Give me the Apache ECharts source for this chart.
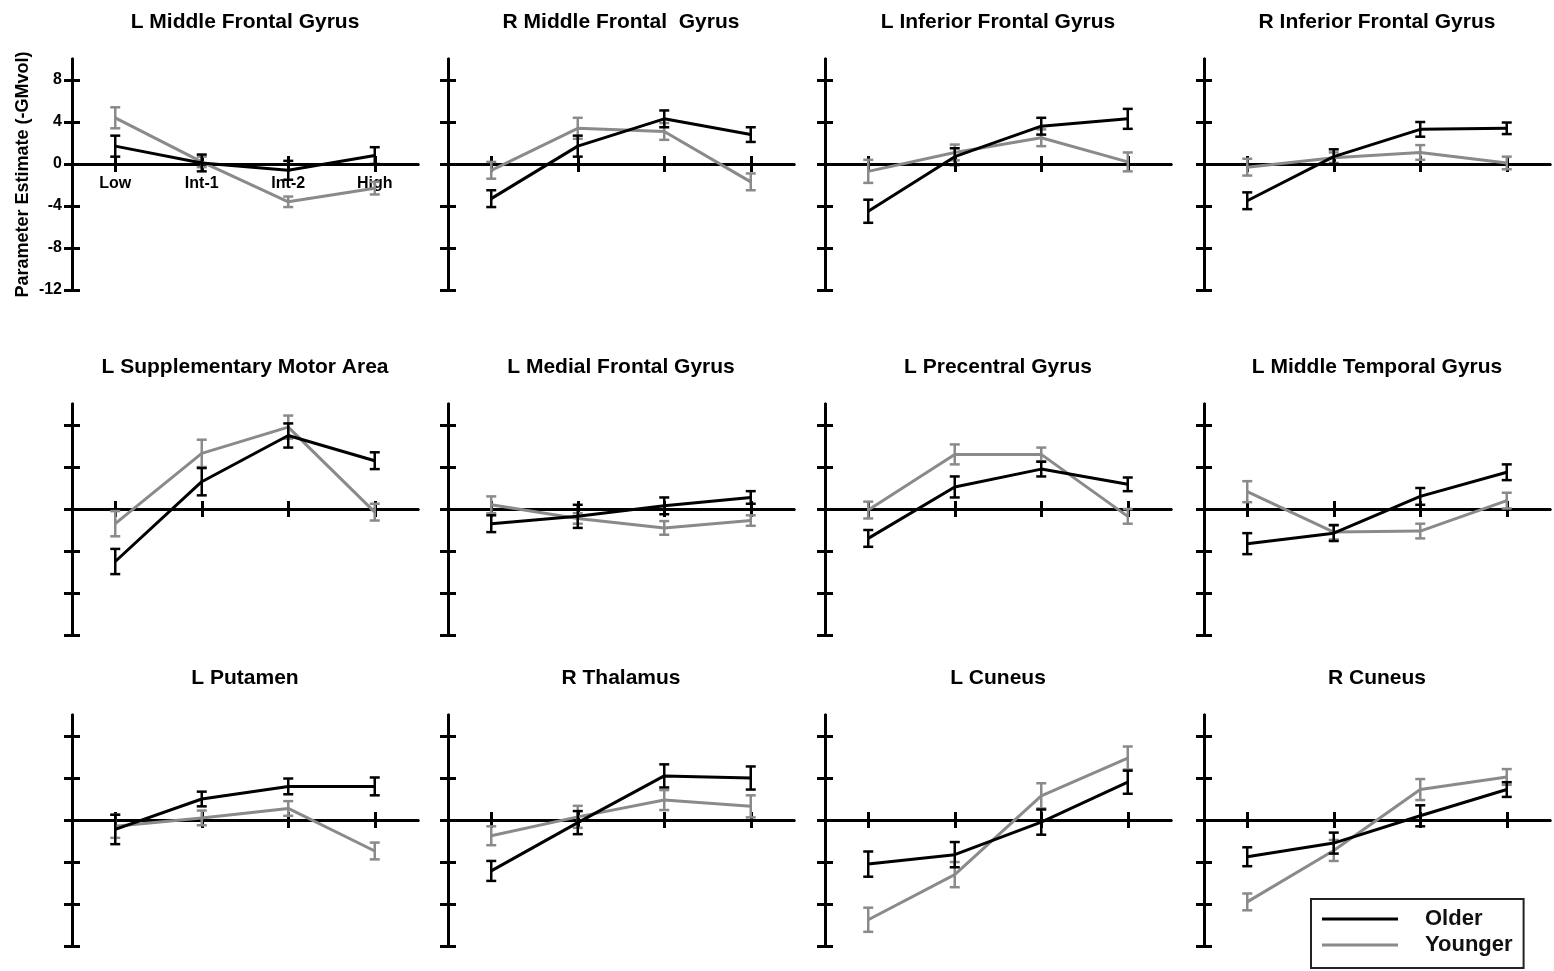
<!DOCTYPE html>
<html>
<head>
<meta charset="utf-8">
<style>
  html, body { margin: 0; padding: 0; background: #fff; }
  #chart { width: 1554px; height: 971px; }
</style>
<script src="https://cdn.jsdelivr.net/npm/echarts@6/dist/echarts.min.js"></script>
</head>
<body>
<div id="chart"></div>
<script>
// load conditions on the x axis
const levels = ['Low', 'Int-1', 'Int-2', 'High']

const regions = [
  'L Middle Frontal Gyrus', 'R Middle Frontal  Gyrus', 'L Inferior Frontal Gyrus', 'R Inferior Frontal Gyrus',
  'L Supplementary Motor Area', 'L Medial Frontal Gyrus', 'L Precentral Gyrus', 'L Middle Temporal Gyrus',
  'L Putamen', 'R Thalamus', 'L Cuneus', 'R Cuneus'
]

// means and standard errors, one row per region
const olderMean = [
  [1.7, 0.1, -0.6, 0.8],
  [-3.3, 1.7, 4.3, 2.8],
  [-4.5, 0.7, 3.6, 4.3],
  [-3.5, 0.7, 3.3, 3.4],
  [-5.0, 2.6, 7.0, 4.6],
  [-1.4, -0.7, 0.3, 1.1],
  [-2.8, 2.1, 3.8, 2.35],
  [-3.3, -2.3, 1.2, 3.5],
  [-0.9, 2.0, 3.2, 3.2],
  [-4.85, -0.25, 4.2, 4.0],
  [-4.2, -3.3, -0.2, 3.6],
  [-3.5, -2.2, 0.4, 2.9]
]
const olderSE = [
  [1.0, 0.8, 0.9, 0.8],
  [0.8, 1.0, 0.8, 0.7],
  [1.1, 0.8, 0.8, 0.95],
  [0.8, 0.7, 0.7, 0.55],
  [1.2, 1.3, 1.15, 0.8],
  [0.8, 1.1, 0.8, 0.6],
  [0.8, 1.0, 0.7, 0.65],
  [1.0, 0.75, 0.8, 0.75],
  [1.4, 0.7, 0.75, 0.85],
  [0.95, 1.1, 1.1, 1.1],
  [1.2, 1.2, 1.2, 1.1],
  [0.9, 1.0, 1.0, 0.7]
]
const youngerMean = [
  [4.4, 0.2, -3.6, -2.3],
  [-0.6, 3.4, 3.1, -1.7],
  [-0.7, 1.1, 2.5, 0.2],
  [-0.3, 0.6, 1.1, 0.1],
  [-1.4, 5.3, 7.8, -0.3],
  [0.4, -0.9, -1.8, -1.1],
  [-0.1, 5.2, 5.2, -0.7],
  [1.65, -2.2, -2.1, 0.8],
  [-0.6, 0.2, 1.1, -2.95],
  [-1.5, 0.3, 1.9, 1.3],
  [-9.5, -5.2, 2.3, 5.9],
  [-7.8, -2.9, 2.9, 4.1]
]
const youngerSE = [
  [1.0, 0.5, 0.5, 0.6],
  [0.8, 1.0, 0.8, 0.8],
  [1.1, 0.75, 0.8, 0.9],
  [0.8, 0.5, 0.7, 0.6],
  [1.2, 1.3, 1.1, 0.8],
  [0.8, 0.5, 0.65, 0.5],
  [0.8, 0.95, 0.65, 0.7],
  [1.0, 0.7, 0.7, 0.75],
  [1.1, 0.7, 0.7, 0.8],
  [0.9, 1.05, 0.95, 1.05],
  [1.15, 1.2, 1.2, 1.1],
  [0.8, 1.0, 1.0, 0.75]
]

const yTicks = [-12, -8, -4, 0, 4, 8]
const yMin = -12
const yMax = 10

const FONT = '"Liberation Sans", Arial, sans-serif'
const BLACK = '#000'
const GRAY = '#8a8a8a'

// panel layout
const colLeft = [72, 448, 825, 1204]
const rowTop = [59, 404, 715]
const titleY = [22, 367, 678]
const plotW = 346
const plotH = 231
// the x axis sits on y = 0, so lift it from the grid bottom
const zeroOffset = -plotH * (0 - yMin) / (yMax - yMin)

const grids = []
const xAxes = []
const yAxes = []
const series = []
const graphics = []

const errorRender = (color) => (params, api) => {
  const top = api.coord([api.value(0), api.value(2)])
  const bot = api.coord([api.value(0), api.value(1)])
  const hw = 5
  const style = { stroke: color, lineWidth: 2.5 }
  return {
    type: 'group',
    children: [
      { type: 'line', shape: { x1: top[0], y1: top[1], x2: bot[0], y2: bot[1] }, style },
      { type: 'line', shape: { x1: top[0] - hw, y1: top[1], x2: top[0] + hw, y2: top[1] }, style },
      { type: 'line', shape: { x1: bot[0] - hw, y1: bot[1], x2: bot[0] + hw, y2: bot[1] }, style }
    ]
  }
}

regions.forEach((name, i) => {
  const r = Math.floor(i / 4)
  const c = i % 4
  const first = i === 0
  grids.push({ left: colLeft[c], top: rowTop[r], width: plotW, height: plotH, containLabel: false })

  const lineStyle = { color: BLACK, width: 3 }

  // two x axes on the same line so the ticks cross it
  xAxes.push({
    gridIndex: i, type: 'category', data: levels, position: 'bottom', offset: zeroOffset,
    axisLine: { show: true, onZero: false, lineStyle },
    axisTick: { show: true, interval: 0, alignWithLabel: true, length: 8, lineStyle },
    axisLabel: {
      show: first, interval: 0, margin: 12, color: BLACK,
      fontFamily: FONT, fontWeight: 'bold', fontSize: 16
    },
    splitLine: { show: false }
  })
  xAxes.push({
    gridIndex: i, type: 'category', data: levels, position: 'bottom', offset: zeroOffset,
    axisLine: { show: true, onZero: false, lineStyle },
    axisTick: { show: true, inside: true, interval: 0, alignWithLabel: true, length: 8, lineStyle },
    axisLabel: { show: false },
    splitLine: { show: false }
  })

  yAxes.push({
    gridIndex: i, type: 'value', min: yMin, max: yMax, position: 'left',
    name: first ? 'Parameter Estimate (-GMvol)' : '',
    nameLocation: 'middle', nameGap: 40,
    nameTextStyle: { color: BLACK, fontFamily: FONT, fontWeight: 'bold', fontSize: 18 },
    axisLine: { show: true, onZero: false, lineStyle },
    axisTick: { show: true, length: 8, customValues: yTicks, lineStyle },
    axisLabel: {
      show: first, customValues: yTicks, margin: 10,
      color: BLACK, fontFamily: FONT, fontWeight: 'bold', fontSize: 16
    },
    splitLine: { show: false }
  })
  yAxes.push({
    gridIndex: i, type: 'value', min: yMin, max: yMax, position: 'left',
    axisLine: { show: true, onZero: false, lineStyle },
    axisTick: { show: true, inside: true, length: 8, customValues: yTicks, lineStyle },
    axisLabel: { show: false },
    splitLine: { show: false }
  })

  const xi = i * 2
  const yi = i * 2

  series.push({
    name: 'Younger', type: 'line', xAxisIndex: xi, yAxisIndex: yi,
    data: youngerMean[i], symbol: 'none', z: 3,
    lineStyle: { color: GRAY, width: 3 }, itemStyle: { color: GRAY }
  })
  series.push({
    name: 'Younger SE', type: 'custom', xAxisIndex: xi, yAxisIndex: yi, z: 3,
    renderItem: errorRender(GRAY),
    encode: { x: 0, y: [1, 2] },
    data: youngerMean[i].map((m, k) => [k, m - youngerSE[i][k], m + youngerSE[i][k]])
  })
  series.push({
    name: 'Older', type: 'line', xAxisIndex: xi, yAxisIndex: yi,
    data: olderMean[i], symbol: 'none', z: 4,
    lineStyle: { color: BLACK, width: 3 }, itemStyle: { color: BLACK }
  })
  series.push({
    name: 'Older SE', type: 'custom', xAxisIndex: xi, yAxisIndex: yi, z: 4,
    renderItem: errorRender(BLACK),
    encode: { x: 0, y: [1, 2] },
    data: olderMean[i].map((m, k) => [k, m - olderSE[i][k], m + olderSE[i][k]])
  })

  graphics.push({
    type: 'text', x: colLeft[c] + plotW / 2, y: titleY[r],
    style: {
      text: name, align: 'center', verticalAlign: 'middle',
      fill: BLACK, font: 'bold 21px ' + FONT
    }
  })
})

const chart = echarts.init(document.getElementById('chart'))
chart.setOption({
  animation: false,
  backgroundColor: '#fff',
  grid: grids,
  xAxis: xAxes,
  yAxis: yAxes,
  series,
  graphic: graphics,
  legend: {
    data: ['Older', 'Younger'],
    orient: 'vertical',
    left: 1311, top: 899,
    padding: [8, 11, 11, 11],
    itemWidth: 76, itemHeight: 3, itemGap: 2,
    icon: 'rect',
    borderColor: '#222', borderWidth: 2,
    selectedMode: false,
    textStyle: {
      color: '#111', fontFamily: FONT, fontWeight: 'bold', fontSize: 22,
      lineHeight: 24, padding: [0, 0, 0, 22]
    }
  }
})
</script>
</body>
</html>
